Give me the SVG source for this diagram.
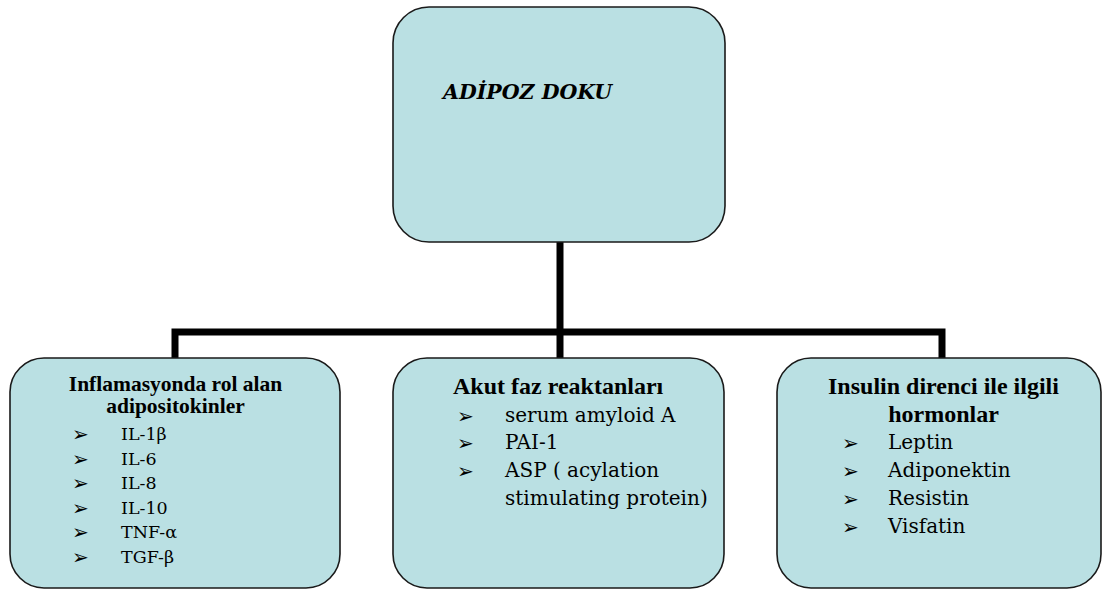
<svg xmlns="http://www.w3.org/2000/svg" width="1102" height="590" viewBox="0 0 1102 590">
<style>
.box{fill:#bae0e3;stroke:#1a1a1a;stroke-width:1.6}
.t{font-family:"Liberation Serif","Times New Roman",serif;fill:#000;font-weight:bold}
.r{font-family:"DejaVu Serif",serif;fill:#000}
.s21{font-size:21.5px}
.s24{font-size:24px}
.rl{font-size:17.5px}
.rm{font-size:20px}
.bul{font-family:"DejaVu Sans",sans-serif;font-size:20px;fill:#000}
.con{fill:none;stroke:#000;stroke-width:7;stroke-linejoin:miter}
</style>
<rect width="1102" height="590" fill="#fff"/>
<g id="connectors">
<line class="con" x1="560" y1="242" x2="560" y2="358"/>
<polyline class="con" points="175,358 175,332 942,332 942,358"/>
</g>
<g id="adipoz">
<rect class="box" x="393" y="7" width="332" height="235" rx="36" ry="36"/>
<text class="r" x="443" y="99" font-weight="bold" font-style="italic" font-size="20.5">ADİPOZ DOKU</text>
</g>
<g id="inflamasyon">
<rect class="box" x="10" y="358" width="330" height="230" rx="34" ry="34"/>
<text class="t s21" x="175.5" y="391" text-anchor="middle">Inflamasyonda rol alan</text>
<text class="t s21" x="175.5" y="413" text-anchor="middle">adipositokinler</text>
<text class="bul" x="72" y="441">➢</text><text class="r rl" x="121" y="440">IL-1β</text>
<text class="bul" x="72" y="465.6">➢</text><text class="r rl" x="121" y="464.6">IL-6</text>
<text class="bul" x="72" y="490.2">➢</text><text class="r rl" x="121" y="489.2">IL-8</text>
<text class="bul" x="72" y="514.8">➢</text><text class="r rl" x="121" y="513.8">IL-10</text>
<text class="bul" x="72" y="539.4">➢</text><text class="r rl" x="121" y="538.4">TNF-α</text>
<text class="bul" x="72" y="564">➢</text><text class="r rl" x="121" y="563">TGF-β</text>
</g>
<g id="akut">
<rect class="box" x="393" y="358" width="331" height="230" rx="34" ry="34"/>
<text class="t s24" x="453" y="394">Akut faz reaktanları</text>
<text class="bul" x="457" y="423">➢</text><text class="r rm" x="505" y="422">serum amyloid A</text>
<text class="bul" x="457" y="450">➢</text><text class="r rm" x="505" y="449">PAI-1</text>
<text class="bul" x="457" y="478">➢</text><text class="r rm" x="505" y="477">ASP ( acylation</text>
<text class="r rm" x="505" y="505">stimulating protein)</text>
</g>
<g id="insulin">
<rect class="box" x="777" y="358" width="324" height="230" rx="34" ry="34"/>
<text class="t s24" x="943.5" y="394" text-anchor="middle">Insulin direnci ile ilgili</text>
<text class="t s24" x="943.5" y="422" text-anchor="middle">hormonlar</text>
<text class="bul" x="842" y="450">➢</text><text class="r rm" x="888" y="449">Leptin</text>
<text class="bul" x="842" y="478">➢</text><text class="r rm" x="888" y="477">Adiponektin</text>
<text class="bul" x="842" y="506">➢</text><text class="r rm" x="888" y="505">Resistin</text>
<text class="bul" x="842" y="534">➢</text><text class="r rm" x="888" y="533">Visfatin</text>
</g>
</svg>
